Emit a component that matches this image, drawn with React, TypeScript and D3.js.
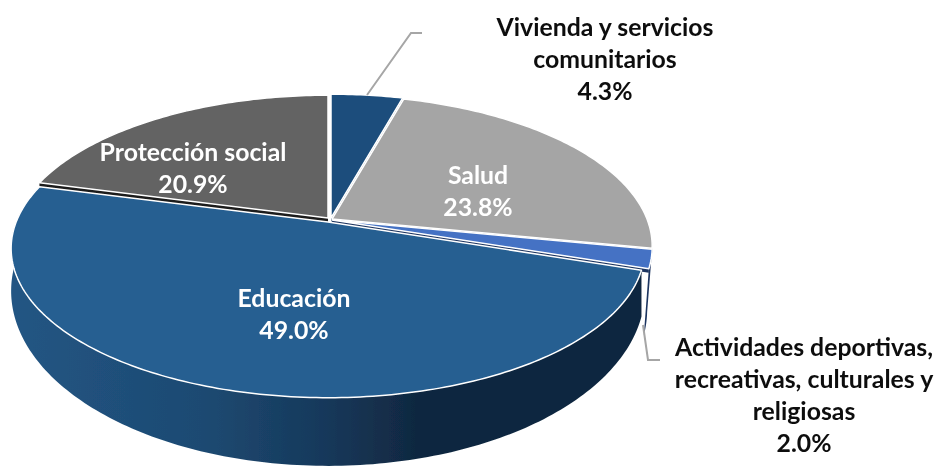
import React from "react";
import * as d3 from "d3";

const categories = ["Vivienda y servicios comunitarios", "Salud", "Actividades deportivas, recreativas, culturales y religiosas", "Educación", "Protección social"];
const shares = [4.3, 23.8, 2.0, 49.0, 20.9];
const shareLabels = ["4.3%", "23.8%", "2.0%", "49.0%", "20.9%"];
const topColors = ["#1b4d7c", "#a5a5a5", "#4472c4", "#255e91", "#636363"];
const wallColors = ["#123759", "#6e6e6e", "#1e3560", "url(#wallGrad)", "#1d1d1d"];
const offsetsX = [1, 2, 2, -2, -2];
const offsetsY = [-1, 0, 1, 3, -1];
const radiusScale = [1, 1, 1, 0.99, 0.99];
const extraDepthX = [0, 0, -5, 0, 0];
const extraDepthY = [0, 0, 20, 0, 0];
const paintOrder = [4, 0, 1, 2, 3];
const outerWallVisible = [false, false, true, true, false];

const W = 939, H = 468;
const cx = 330, cy = 219;
const Rx = 315, Ry = 146, persp = 0.179;
const depthY = 38, depthScaleX = 1.0, depthScaleY = 1.172;

type Pt = [number, number];
function project(theta: number, r: number, i: number, bottom: boolean): Pt {
  const sx = bottom ? depthScaleX : 1;
  const sy = bottom ? depthScaleY : 1;
  const d = 1 + persp * Math.cos(theta) * r;
  return [
    cx + offsetsX[i] + (bottom ? extraDepthX[i] : 0) + (sx * Rx * r * Math.sin(theta)) / d,
    cy + offsetsY[i] + (bottom ? depthY + extraDepthY[i] : 0) + (-sy * Ry * r * Math.cos(theta)) / d,
  ];
}

const pieGen = d3.pie<number>().sort(null).value((d) => d);
const arcs = pieGen(shares);
const line = d3.line<Pt>();

function samples(a0: number, a1: number): number[] {
  const n = Math.max(8, Math.ceil((a1 - a0) * 60));
  return d3.range(n + 1).map((k) => a0 + ((a1 - a0) * k) / n);
}

function topPath(i: number): string {
  const a = arcs[i];
  const pts = samples(a.startAngle, a.endAngle).map((t) => project(t, radiusScale[i], i, false));
  return line([project(0, 0, i, false), ...pts])! + "Z";
}

function outerWall(i: number): string {
  const a = arcs[i];
  const ts = samples(a.startAngle, a.endAngle);
  const upper = ts.map((t) => project(t, radiusScale[i], i, false));
  const lower = ts.slice().reverse().map((t) => project(t, radiusScale[i], i, true));
  return line([...upper, ...lower])! + "Z";
}

// Cut faces only show as thin dark strips in the gaps between slices.
function cutWall(i: number, theta: number): string {
  const r = radiusScale[i];
  const shift = 4;
  const a = project(0, 0, i, false);
  const b = project(theta, r, i, false);
  return line([a, b, [b[0], b[1] + shift], [a[0], a[1] + shift]])! + "Z";
}

type Lab = { x: number; y: number; fill: string; lines: string[] };
const labels: Lab[] = [
  { x: 605, y: 27, fill: "#111", lines: ["Vivienda y servicios", "comunitarios", shareLabels[0]] },
  { x: 478, y: 175, fill: "#fff", lines: [categories[1], shareLabels[1]] },
  { x: 804, y: 347, fill: "#111", lines: ["Actividades deportivas,", "recreativas, culturales y", "religiosas", shareLabels[2]] },
  { x: 294, y: 298, fill: "#fff", lines: [categories[3], shareLabels[3]] },
  { x: 193, y: 152, fill: "#fff", lines: [categories[4], shareLabels[4]] },
];

const leaders: Pt[][] = [
  [[422, 33], [411, 33], [367, 95]],
  [[643, 325], [648, 360], [660, 360]],
];

const cutFill = (i: number) => (wallColors[i].startsWith("url") ? "#10273f" : wallColors[i]);

export default function App() {
  return (
    <svg width={W} height={H} viewBox={`0 0 ${W} ${H}`} style={{ position: "absolute", left: 0, top: 0, display: "block", background: "#fff" }}>
      <defs>
        <linearGradient id="wallGrad" gradientUnits="userSpaceOnUse" x1={15} x2={640} y1={0} y2={0}>
          <stop offset="0" stopColor="#225583" />
          <stop offset="0.3" stopColor="#1d4a72" />
          <stop offset="0.5" stopColor="#16385a" />
          <stop offset="0.65" stopColor="#10273f" />
          <stop offset="1" stopColor="#10273f" />
        </linearGradient>
        <filter id="soft" x="0" y="0" width="100%" height="100%">
          <feGaussianBlur stdDeviation="0.45" />
        </filter>
      </defs>
      <g filter="url(#soft)">
        {paintOrder.map((i) => (
          <g key={categories[i]}>
            {outerWallVisible[i] && <path d={outerWall(i)} fill={wallColors[i]} />}
            <path d={cutWall(i, arcs[i].startAngle)} fill={cutFill(i)} />
            <path d={cutWall(i, arcs[i].endAngle)} fill={cutFill(i)} />
            <path d={topPath(i)} fill={topColors[i]} stroke="#ffffff" strokeWidth={1.5} strokeLinejoin="round" />
          </g>
        ))}
        {leaders.map((p, k) => (
          <path key={k} d={line(p)!} fill="none" stroke="#a6a6a6" strokeWidth={2} />
        ))}
        {labels.map((l) => (
          <text key={l.lines[0]} textAnchor="middle" fill={l.fill} fontFamily="Lato, 'Open Sans', sans-serif" fontWeight={700} fontSize={24.8}>
            {l.lines.map((t, j) => (
              <tspan key={t} x={l.x} y={l.y + j * 32} dy="0.35em">{t}</tspan>
            ))}
          </text>
        ))}
      </g>
    </svg>
  );
}
